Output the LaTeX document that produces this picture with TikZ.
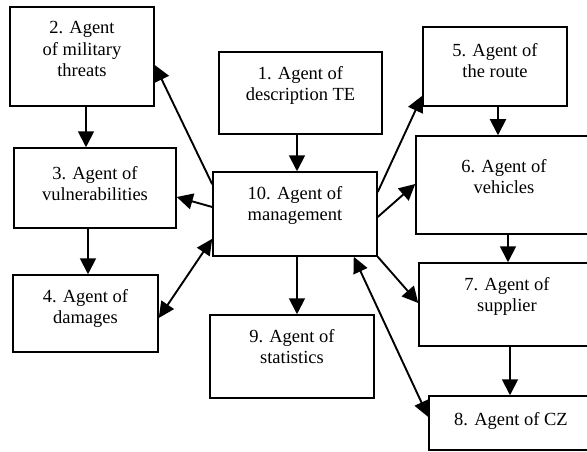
\documentclass[tikz,border=0pt]{standalone}
\usepackage{fontspec}
\setmainfont{Liberation Serif}
\usetikzlibrary{arrows.meta}

\def \descriptionCenterX{300.5}
\def \descriptionCenterY{93}
\def \descriptionSizeX{163}
\def \descriptionSizeY{82}
\def \threatsCenterX{82}
\def \threatsCenterY{56.5}
\def \threatsSizeX{144}
\def \threatsSizeY{99}
\def \vulnerabilityCenterX{95}
\def \vulnerabilityCenterY{188}
\def \vulnerabilitySizeX{162}
\def \vulnerabilitySizeY{80}
\def \damagesCenterX{85.5}
\def \damagesCenterY{313.5}
\def \damagesSizeX{145}
\def \damagesSizeY{77}
\def \routeCenterX{495}
\def \routeCenterY{66.5}
\def \routeSizeX{144}
\def \routeSizeY{79}
\def \vehiclesCenterX{504}
\def \vehiclesCenterY{185}
\def \vehiclesSizeX{176}
\def \vehiclesSizeY{98}
\def \supplierCenterX{507}
\def \supplierCenterY{304.5}
\def \supplierSizeX{176}
\def \supplierSizeY{83}
\def \czCenterX{511}
\def \czCenterY{423}
\def \czSizeX{164}
\def \czSizeY{54}
\def \statisticsCenterX{292}
\def \statisticsCenterY{356.5}
\def \statisticsSizeX{164}
\def \statisticsSizeY{83}
\def \managementCenterX{295}
\def \managementCenterY{214}
\def \managementSizeX{164}
\def \managementSizeY{84}

\tikzset{
  agentbox/.style={draw, line width=1.5pt, inner sep=0pt},
  agenttext/.style={anchor=north, inner sep=0pt, align=center, font=\fontsize{18.5}{21.5}\selectfont},
  flux/.style={line width=1.9pt, -{Triangle[length=16pt,width=16pt]}},
  fluxboth/.style={line width=1.9pt, {Triangle[length=16pt,width=15pt]}-{Triangle[length=16pt,width=15pt]}}
}

\begin{document}
\begin{tikzpicture}[x=1pt, y=-1pt]
\useasboundingbox (0,0) rectangle (587,452);
% ---- Agent boxes
% ---- 1. Description
\node[agentbox, minimum width=\descriptionSizeX pt, minimum height=\descriptionSizeY pt] (description) at (\descriptionCenterX, \descriptionCenterY) {};
\node[agenttext, yshift=-15pt] (descriptionText) at (description.north) {1. Agent of\\description TE};
% ---- 2. Military threats
\node[agentbox, minimum width=\threatsSizeX pt, minimum height=\threatsSizeY pt] (threats) at (\threatsCenterX, \threatsCenterY) {};
\node[agenttext, yshift=-15pt] (threatsText) at (threats.north) {2. Agent\\of military\\threats};
% ---- 3. Vulnerabilities
\node[agentbox, minimum width=\vulnerabilitySizeX pt, minimum height=\vulnerabilitySizeY pt] (vulnerability) at (\vulnerabilityCenterX, \vulnerabilityCenterY) {};
\node[agenttext, yshift=-19pt] (vulnerabilityText) at (vulnerability.north) {3. Agent of\\vulnerabilities};
% ---- 4. Damages
\node[agentbox, minimum width=\damagesSizeX pt, minimum height=\damagesSizeY pt] (damages) at (\damagesCenterX, \damagesCenterY) {};
\node[agenttext, yshift=-15pt] (damagesText) at (damages.north) {4. Agent of\\damages};
% ---- 5. Route
\node[agentbox, minimum width=\routeSizeX pt, minimum height=\routeSizeY pt] (route) at (\routeCenterX, \routeCenterY) {};
\node[agenttext, yshift=-17pt] (routeText) at (route.north) {5. Agent of\\the route};
% ---- 6. Vehicles
\node[agentbox, minimum width=\vehiclesSizeX pt, minimum height=\vehiclesSizeY pt] (vehicles) at (\vehiclesCenterX, \vehiclesCenterY) {};
\node[agenttext, yshift=-24pt] (vehiclesText) at (vehicles.north) {6. Agent of\\vehicles};
% ---- 7. Supplier
\node[agentbox, minimum width=\supplierSizeX pt, minimum height=\supplierSizeY pt] (supplier) at (\supplierCenterX, \supplierCenterY) {};
\node[agenttext, yshift=-15pt] (supplierText) at (supplier.north) {7. Agent of\\supplier};
% ---- 8. CZ
\node[agentbox, minimum width=\czSizeX pt, minimum height=\czSizeY pt] (cz) at (\czCenterX, \czCenterY) {};
\node[agenttext, yshift=-17pt] (czText) at (cz.north) {8. Agent of CZ};
% ---- 9. Statistics
\node[agentbox, minimum width=\statisticsSizeX pt, minimum height=\statisticsSizeY pt] (statistics) at (\statisticsCenterX, \statisticsCenterY) {};
\node[agenttext, yshift=-15pt] (statisticsText) at (statistics.north) {9. Agent of\\statistics};
% ---- 10. Management
\node[agentbox, minimum width=\managementSizeX pt, minimum height=\managementSizeY pt] (management) at (\managementCenterX, \managementCenterY) {};
\node[agenttext, yshift=-15pt] (managementText) at (management.north) {10. Agent of\\management};

% Flux
\draw [flux] ([xshift=4pt]threats.south) -- ([xshift=-9pt]vulnerability.north);
\draw [flux] ([xshift=-7pt]vulnerability.south) -- ([xshift=2.5pt]damages.north);
\draw [flux] ([yshift=-13pt]management.north west) -- ([yshift=-8.5pt]threats.east);
\draw [flux] ([yshift=7pt]management.west) -- ([yshift=-9pt]vulnerability.east);
\draw [fluxboth] ([yshift=-4.5pt]damages.east) -- ([yshift=18pt]management.south west);
\draw [flux] ([xshift=-3.5pt]description.south) -- ([xshift=2pt]management.north);
\draw [flux] ([yshift=22pt]management.east) -- ([yshift=11pt]route.south west);
\draw [flux] ([yshift=-3pt]management.east) -- ([yshift=1pt]vehicles.west);
\draw [flux] ([xshift=3pt]route.south) -- ([xshift=-6pt]vehicles.north);
\draw [flux] ([xshift=2pt]management.south) -- ([xshift=5pt]statistics.north);
\draw [flux] (management.south east) -- ([yshift=1.5pt]supplier.west);
\draw [fluxboth] ([xshift=-24pt]management.south east) -- ([yshift=6pt]cz.west);
\draw [flux] ([xshift=4pt]vehicles.south) -- ([xshift=1pt]supplier.north);
\draw [flux] ([xshift=3pt]supplier.south) -- ([xshift=-1pt]cz.north);
\end{tikzpicture}
\end{document}
